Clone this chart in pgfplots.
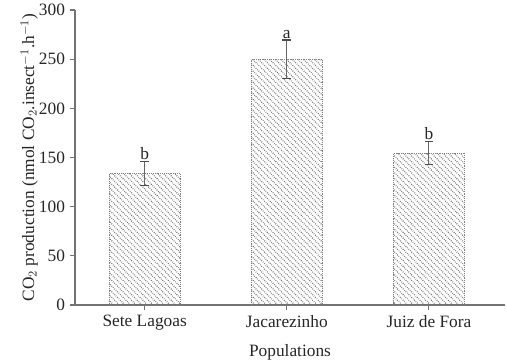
\documentclass[border=0pt]{standalone}
\usepackage{fontspec}
\setmainfont{Liberation Serif}
\usepackage{pgfplots}
\pgfplotsset{compat=1.18}
\usetikzlibrary{patterns.meta}
\begin{document}
\begin{tikzpicture}
\begin{axis}[
  at={(56.25pt,42pt)}, anchor=south west,
  scale only axis, width=322.5pt, height=221.25pt,
  xmin=-0.49, xmax=2.535, ymin=0, ymax=300,
  axis x line=bottom, axis y line=left,
  axis line style={-, black!55, line width=0.8pt},
  tick style={black!55, line width=0.8pt},
  tick align=outside, major tick length=4pt,
  xtick={0,1,2}, xticklabels={Sete Lagoas, Jacarezinho, Juiz de Fora},
  ytick={0,50,100,150,200,250,300},
  /pgf/number format/assume math mode=true,
  tick label style={font=\fontsize{13}{15}\selectfont, text=black!85},
  label style={font=\fontsize{13}{15}\selectfont, text=black!85},
  xlabel={Populations},
  ylabel={CO$_2$ production (nmol CO$_2$.insect$^{-1}$.h$^{-1}$)},
  xlabel style={yshift=-4pt},
  ylabel style={yshift=-6pt},
  clip=false,
]
\addplot[ybar, bar width=53.25pt, draw=black!50, densely dotted,
  pattern={Lines[angle=-45, distance=3pt, line width=0.9pt]}, pattern color=black!60,
  error bars/.cd, y dir=both, y explicit,
  error bar style={solid, black!60, line width=0.8pt},
  error mark options={solid, black!70, mark size=3.3pt, line width=0.8pt, rotate=90}]
  coordinates {(0,134) +- (0,12) (1,250) +- (0,19.5) (2,154.5) +- (0,12)};
\addplot[only marks, mark=none, nodes near coords, point meta=explicit symbolic,
  nodes near coords style={font=\fontsize{13}{15}\selectfont, text=black!85, anchor=south, inner sep=1pt}]
  coordinates {(0,146)[b] (1,269.5)[a] (2,166.5)[b]};
\end{axis}
\pgfresetboundingbox
\path[use as bounding box] (0,0) rectangle (380.25pt,270.75pt);
\end{tikzpicture}
\end{document}
